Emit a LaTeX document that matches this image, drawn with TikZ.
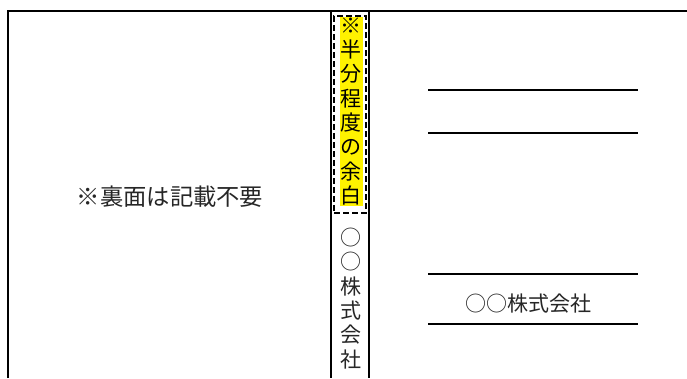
\documentclass[tikz,border=0pt]{standalone}
\usepackage{fontspec}
\setmainfont{Noto Sans CJK JP}
\begin{document}
\begin{tikzpicture}[x=1pt,y=-1pt,
  frame/.style={line width=1.5pt,black},
  rule/.style={line width=1.8pt,black},
  jp/.style={inner sep=0pt,text=black!85,font=\fontsize{21}{21}\selectfont},
  vtext/.style={inner sep=1pt,align=center,text=black!85,font=\fontsize{21}{24.3}\selectfont},
  dashbox/.style={draw,line width=1.8pt,dash pattern=on 6pt off 3pt,inner sep=0pt}]
\useasboundingbox (0,0) rectangle (687,378);
% frame
\coordinate (tl) at (8,11);
\coordinate (tr) at (687,11);
\coordinate (bl) at (8,378);
\coordinate (s1t) at (331,11);
\coordinate (s1b) at (331,378);
\coordinate (s2t) at (369,11);
\coordinate (s2b) at (369,378);
\draw[frame] (bl) -- (tl) -- (tr);
\draw[rule] (s1t) -- (s1b);
\draw[rule] (s2t) -- (s2b);
% left note
\node[jp,font=\fontsize{23.3}{23.3}\selectfont] (note) at (170,197) {※裏面は記載不要};
% margin text in spine
\node[dashbox,minimum width=32pt,minimum height=197pt] (mbox) at (350,114.5) {};
\node[vtext,fill=yellow,text=black] (margin) at (351,111.5) {※\\半\\分\\程\\度\\の\\余\\白};
\node[vtext] (spine) at (351,298.5) {○\\○\\株\\式\\会\\社};
% right lines
\coordinate (l1a) at (428,90);  \coordinate (l1b) at (638,90);
\coordinate (l2a) at (428,133); \coordinate (l2b) at (638,133);
\coordinate (l3a) at (428,274); \coordinate (l3b) at (638,274);
\coordinate (l4a) at (428,324); \coordinate (l4b) at (638,324);
\draw[rule] (l1a) -- (l1b);
\draw[rule] (l2a) -- (l2b);
\draw[rule] (l3a) -- (l3b);
\draw[rule] (l4a) -- (l4b);
\node[jp] (company) at (528,304) {○○株式会社};
\end{tikzpicture}
\end{document}
